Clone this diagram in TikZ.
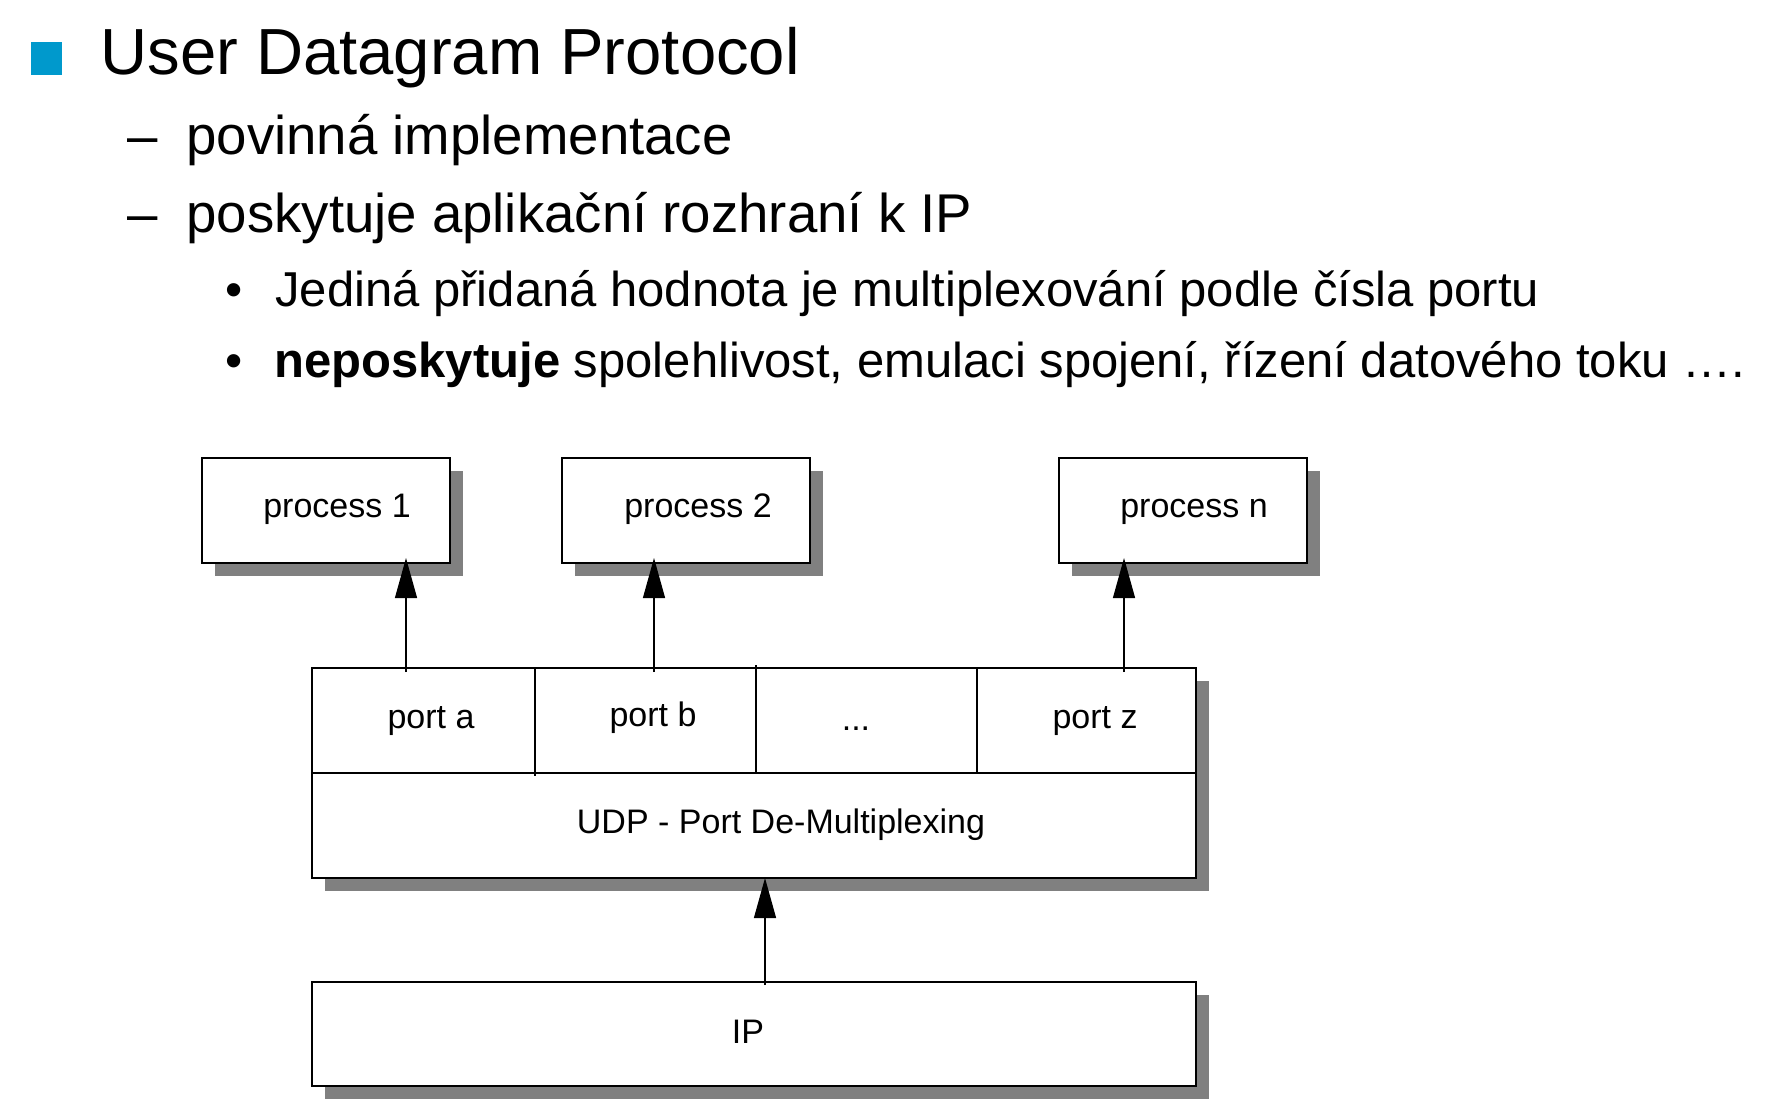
\documentclass[tikz,border=0pt]{standalone}
\usepackage{fontspec}
\setmainfont{Liberation Sans}
\usetikzlibrary{shadows,arrows.meta}
\definecolor{bluesq}{RGB}{0,153,204}
\definecolor{shadowgray}{RGB}{128,128,128}
\begin{document}
\begin{tikzpicture}[x=0.5pt,y=-0.5pt,
  box/.style={draw=black,line width=0.7pt,fill=white,inner sep=0pt,outer sep=0pt,anchor=north west,
    drop shadow={shadow xshift=6.5pt,shadow yshift=-6.5pt,fill=shadowgray,opacity=1}},
  pbox/.style={box,minimum width=124pt,minimum height=52.5pt},
  wbox/.style={box,minimum width=442pt},
  lbl/.style={inner sep=0pt,anchor=base,font=\fontsize{17pt}{20pt}\selectfont},
  arr/.style={line width=0.6pt,-{Triangle[length=20pt,width=11pt]}},
  inner/.style={line width=0.6pt},
  htitle/.style={inner sep=0pt,anchor=base west,font=\fontsize{32.6pt}{39pt}\selectfont},
  hone/.style={inner sep=0pt,anchor=base west,font=\fontsize{27.3pt}{33pt}\selectfont},
  htwo/.style={inner sep=0pt,anchor=base west,font=\fontsize{24.5pt}{29pt}\selectfont},
  hbullet/.style={inner sep=0pt,anchor=base,font=\fontsize{24.5pt}{29pt}\selectfont}]
\useasboundingbox (0,0) rectangle (1770,1118);
% header
\fill[bluesq] (31,42) rectangle (62,75);
\node[htitle] (title) at (100,75) {User Datagram Protocol};
\node[hone] (d1) at (127,155) {–};
\node[hone] (t1) at (186,155) {povinná implementace};
\node[hone] (d2) at (127,233) {–};
\node[hone] (t2) at (186,233) {poskytuje aplikační rozhraní k IP};
\node[hbullet] (b1) at (234,306) {•};
\node[htwo] (t3) at (275,306) {Jediná přidaná hodnota je multiplexování podle čísla portu};
\node[hbullet] (b2) at (234,377) {•};
\node[htwo] (t4) at (274,377) {\textbf{neposkytuje} spolehlivost, emulaci spojení, řízení datového toku ….};
% process boxes
\node[pbox] (p1) at (202,458) {};
\node[pbox] (p2) at (562,458) {};
\node[pbox] (pn) at (1059,458) {};
\node[lbl] (p1t) at (337,517) {process 1};
\node[lbl] (p2t) at (698,517) {process 2};
\node[lbl] (pnt) at (1194,517) {process n};
% UDP box
\node[wbox,minimum height=105pt] (udp) at (312,668) {};
\draw[inner] (312,773) -- (1196,773);
\draw[inner] (535,668) -- (535,776);
\draw[inner] (756,665) -- (756,773);
\draw[inner] (977,668) -- (977,773);
\node[lbl] (pa) at (431,728) {port a};
\node[lbl] (pb) at (653,726) {port b};
\node[lbl] (pd) at (856,730) {...};
\node[lbl] (pz) at (1095,728) {port z};
\node[lbl] (udpt) at (781,833) {UDP - Port De-Multiplexing};
% IP box
\node[wbox,minimum height=52pt] (ip) at (312,982) {};
\node[lbl] (ipt) at (748,1043) {IP};
% arrows
\coordinate (a1) at (406,672);
\coordinate (a2) at (654,672);
\coordinate (an) at (1124,672);
\coordinate (au) at (765,985);
\draw[arr,shorten >=-2.5pt] (a1) -- (a1 |- p1.south);
\draw[arr,shorten >=-2.5pt] (a2) -- (a2 |- p2.south);
\draw[arr,shorten >=-2.5pt] (an) -- (an |- pn.south);
\draw[arr] (au) -- (au |- udp.south);
\end{tikzpicture}
\end{document}
